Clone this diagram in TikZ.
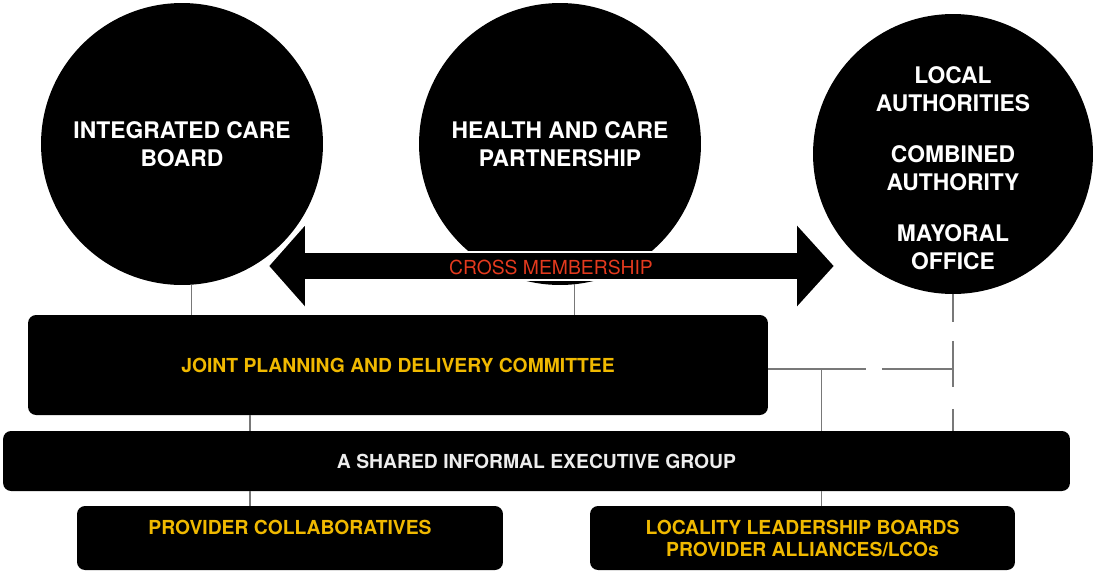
\documentclass[tikz,border=0pt]{standalone}
\usepackage{fontspec}
\setmainfont{TeX Gyre Heros}
\usetikzlibrary{calc}
\definecolor{planyellow}{RGB}{240,185,0}
\definecolor{crossred}{RGB}{228,58,30}
\definecolor{linkgrey}{RGB}{120,120,120}
\tikzset{
	body/.style={circle, fill=black, inner sep=0pt, outer sep=0pt, text=white, align=center, font=\bfseries\fontsize{13}{15.9}\selectfont},
	bodytext/.style={text=white, align=center, font=\bfseries\fontsize{13}{15.9}\selectfont},
	panel/.style={rectangle, rounded corners=0.16cm, fill=black, inner sep=0pt, outer sep=0pt, align=center, font=\bfseries\fontsize{11}{12.5}\selectfont},
	link/.style={draw=linkgrey, line width=0.6pt},
}

\begin{document}
\begin{tikzpicture}[x=0.02cm, y=-0.02cm]
		%%%%% START %%%%%
		\useasboundingbox (0,0) rectangle (1097,572);
		
		\node[body, minimum size=5.64cm] (icb) at (182,144) {INTEGRATED CARE\\BOARD};
		\node[body, minimum size=5.64cm] (hcp) at (560,144) {HEALTH AND CARE\\PARTNERSHIP};
		\node[body, minimum size=5.6cm] (la) at (953,154) {};
		\node[bodytext] (latext) at (953,168) {LOCAL\\AUTHORITIES\\[0.46cm]COMBINED\\AUTHORITY\\[0.46cm]MAYORAL\\OFFICE};
		
		\node[panel, minimum width=14.8cm, minimum height=2cm, text=planyellow] (jpdc) at (398,365) {JOINT PLANNING AND DELIVERY COMMITTEE};
		\node[panel, minimum width=21.34cm, minimum height=1.2cm, text=white!93!black] (exec) at (536.5,461) {A SHARED INFORMAL EXECUTIVE GROUP};
		\node[panel, minimum width=8.52cm, minimum height=1.28cm, text=planyellow] (pc) at (290,538) {PROVIDER COLLABORATIVES\\\mbox{}};
		\node[panel, minimum width=8.5cm, minimum height=1.28cm, text=planyellow] (loc) at (802.5,538) {LOCALITY LEADERSHIP BOARDS\\PROVIDER ALLIANCES/LCOs};
		
		% circles down to the committee
		\draw[link] (icb.-86.3) -- (icb.-86.3 |- jpdc.north);
		\draw[link] (hcp.-84.7) -- (hcp.-84.7 |- jpdc.north);
		\draw[link, dash pattern=on 0.56cm off 0.38cm on 0.92cm off 0.44cm] (la.-90) -- (la.-90 |- exec.north);
		
		% committee, executive group and below
		\coordinate (l) at (250,0);
		\draw[link] (l |- jpdc.south) -- (l |- exec.north);
		\draw[link] (l |- exec.south) -- (l |- pc.north);
		\draw[link] ([yshift=-0.08cm]jpdc.east) -- ++(54,0) coordinate (j) -- (j |- exec.north);
		\draw[link, dash pattern=on 0.88cm off 0.32cm on 1.4cm] (j) -- (la.-90 |- j);
		\draw[link] (j |- exec.south) -- (j |- loc.north);
		
		% cross membership arrow
		\draw[fill=black, draw=white, line width=1pt] (268,266) -- (306,223) -- (306,252) -- (796,252) -- (796,223) -- (835,266) -- (796,309) -- (796,280) -- (306,280) -- (306,309) -- cycle;
		\node[text=crossred, font=\fontsize{11}{13}\selectfont] (cross) at (551,267) {CROSS MEMBERSHIP};
		
		%%%%% END %%%%%
\end{tikzpicture}
\end{document}
